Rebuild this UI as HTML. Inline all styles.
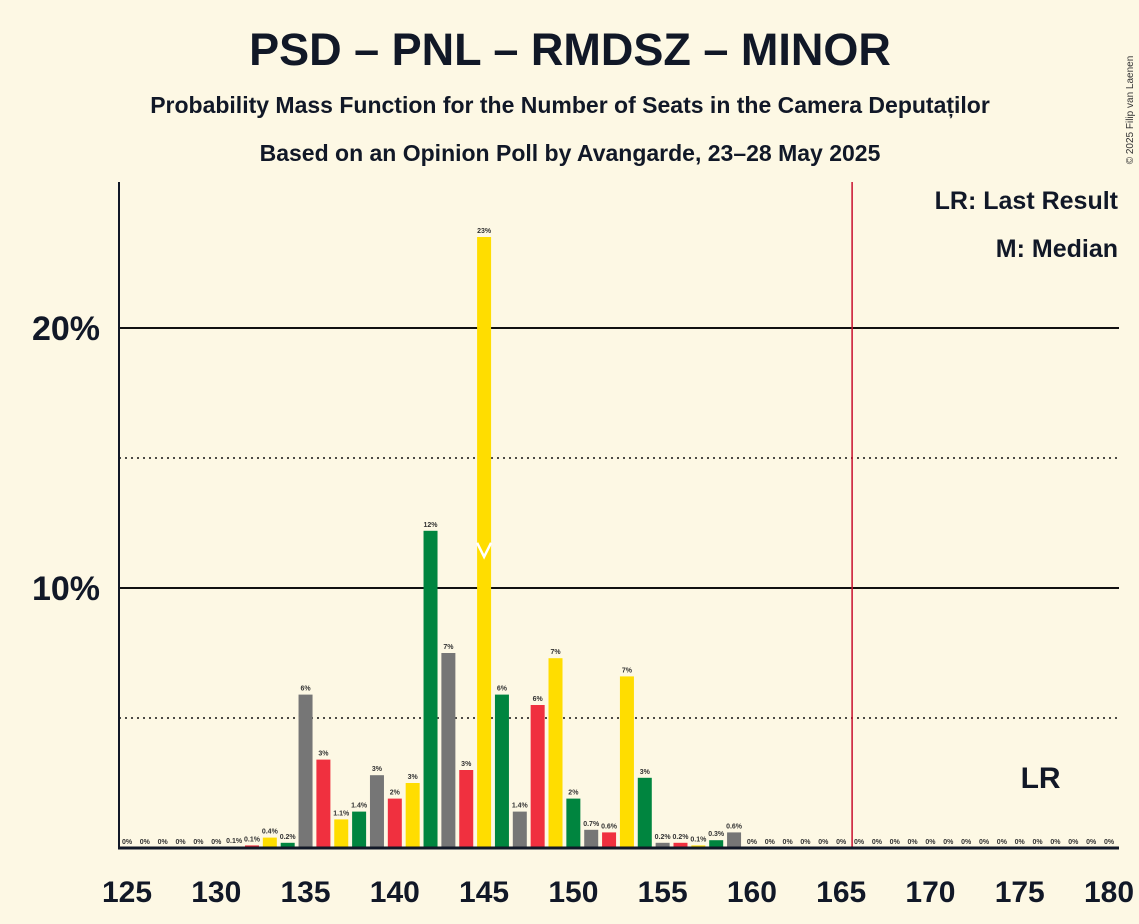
<!DOCTYPE html>
<html><head><meta charset="utf-8"><style>
body{margin:0;background:#fdf8e4;}
svg{display:block;font-family:"Liberation Sans",sans-serif;}
</style></head><body>
<svg id="c" width="1139" height="924" viewBox="0 0 1139 924">
<rect width="1139" height="924" fill="#fdf8e4"/>
<text x="570" y="65" text-anchor="middle" font-size="45" font-weight="bold" fill="#111827">PSD – PNL – RMDSZ – MINOR</text>
<text x="570" y="113" text-anchor="middle" font-size="23" font-weight="bold" fill="#111827">Probability Mass Function for the Number of Seats in the Camera Deputaților</text>
<text x="570" y="161" text-anchor="middle" font-size="23" font-weight="bold" fill="#111827">Based on an Opinion Poll by Avangarde, 23–28 May 2025</text>
<text x="1133" y="110" font-size="10" fill="#333" transform="rotate(-90 1133 110)" text-anchor="middle">© 2025 Filip van Laenen</text>
<text x="1118" y="209" text-anchor="end" font-size="25" font-weight="bold" fill="#111827">LR: Last Result</text>
<text x="1118" y="257" text-anchor="end" font-size="25" font-weight="bold" fill="#111827">M: Median</text>
<g id="grid"></g><g id="bars"></g><g id="axes"></g>
</svg>
<script>
const seats=[125,126,127,128,129,130,131,132,133,134,135,136,137,138,139,140,141,142,143,144,145,146,147,148,149,150,151,152,153,154,155,156,157,158,159,160,161,162,163,164,165,166,167,168,169,170,171,172,173,174,175,176,177,178,179,180];
const probs=[0,0,0,0,0,0,0.03,0.1,0.4,0.2,5.9,3.4,1.1,1.4,2.8,1.9,2.5,12.2,7.5,3.0,23.5,5.9,1.4,5.5,7.3,1.9,0.7,0.6,6.6,2.7,0.2,0.2,0.1,0.3,0.6,0,0,0,0,0,0,0,0,0,0,0,0,0,0,0,0,0,0,0,0,0];
const labels=["0%","0%","0%","0%","0%","0%","0.1%","0.1%","0.4%","0.2%","6%","3%","1.1%","1.4%","3%","2%","3%","12%","7%","3%","23%","6%","1.4%","6%","7%","2%","0.7%","0.6%","7%","3%","0.2%","0.2%","0.1%","0.3%","0.6%","0%","0%","0%","0%","0%","0%","0%","0%","0%","0%","0%","0%","0%","0%","0%","0%","0%","0%","0%","0%","0%"];
const xTicks=[125,130,135,140,145,150,155,160,165,170,175,180];
const yMajor=[10,20];
const yMinor=[5,15];
const median=145, lastResult=176, majority=165.5;
const X=s=>127+(s-125)*(1109-127)/55;
const Y=p=>848-p*26;
const ns="http://www.w3.org/2000/svg";
function mk(t,a,p){const e=document.createElementNS(ns,t);for(const k in a)e.setAttribute(k,a[k]);p.appendChild(e);return e;}
const G=document.getElementById('grid'),B=document.getElementById('bars'),A=document.getElementById('axes');
yMinor.forEach(v=>{const l=mk('line',{x1:119,x2:1119,y1:Y(v),y2:Y(v),stroke:'#111',"stroke-width":1.5,"stroke-dasharray":"2,4"},G);

});
yMajor.forEach(v=>{const l=mk('line',{x1:119,x2:1119,y1:Y(v),y2:Y(v),stroke:'#111',"stroke-width":2},G);


const t=mk('text',{x:100,y:Y(v)+12,"text-anchor":"end","font-size":34,"font-weight":"bold",fill:'#111827'},A);t.textContent=v+'%';

});
const cols=['#f0303f','#ffdd00','#00853f','#767676'];
seats.forEach((s,i)=>{const p=probs[i];const x=X(s);
if(p>0){const r=mk('rect',{x:x-7,y:Y(p),width:14,height:848-Y(p),fill:cols[s%4]},B);

}
const t=mk('text',{x:x,y:Y(p)-4,"text-anchor":"middle","font-size":7,"font-weight":"bold",fill:'#333'},B);t.textContent=labels[i];

});
const mx=X(median),my=Y(11.2);
const m=mk('polyline',{points:`${mx-7},${my-14} ${mx},${my} ${mx+7},${my-14}`,fill:'none',stroke:'#fff',"stroke-width":2.5},B);


const v=mk('line',{x1:X(majority)+2,x2:X(majority)+2,y1:182,y2:848,stroke:'#c8102e',"stroke-width":1.5},A);


const lr=mk('text',{x:X(lastResult)+3,y:788,"text-anchor":"middle","font-size":30,"font-weight":"bold",fill:'#111827'},A);lr.textContent='LR';


const ya=mk('line',{x1:119,x2:119,y1:182,y2:849,stroke:'#111827',"stroke-width":2},A);


const xa=mk('line',{x1:118,x2:1119,y1:848,y2:848,stroke:'#111827',"stroke-width":3},A);


xTicks.forEach(s=>{const t=mk('text',{x:X(s),y:902,"text-anchor":"middle","font-size":30,"font-weight":"bold",fill:'#111827'},A);t.textContent=s;

});
</script>
</body></html>
